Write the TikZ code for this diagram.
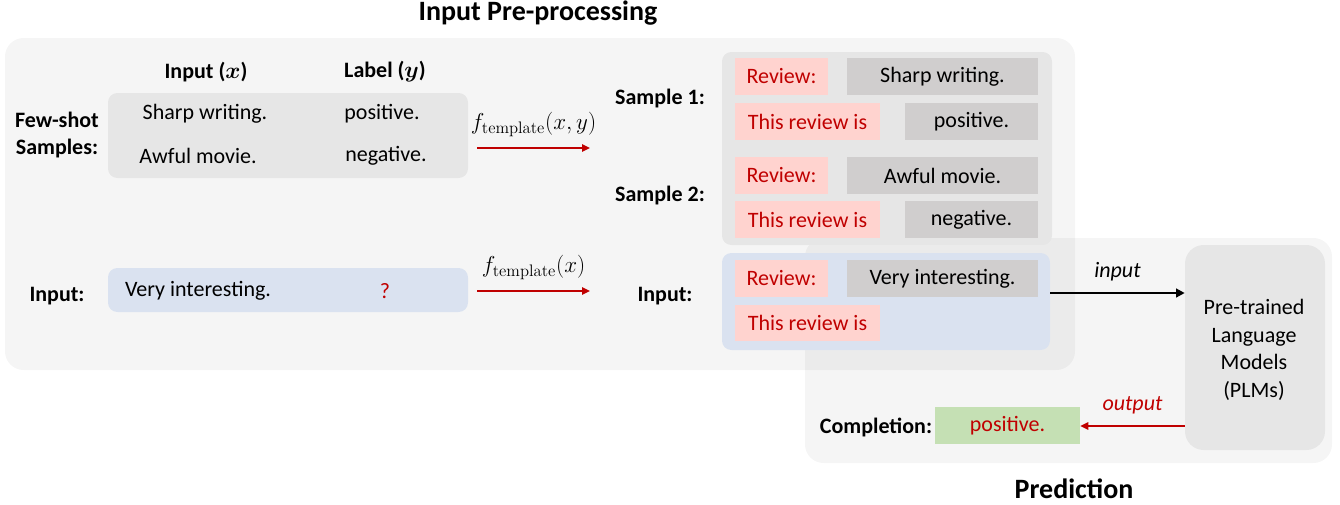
\documentclass[tikz,border=0pt]{standalone}
\usepackage{amsmath}
\usepackage{fontspec}
\setmainfont{Carlito}
\newfontfamily\lmrfont{Latin Modern Roman}
\usetikzlibrary{arrows.meta,fit}
\definecolor{greybox}{HTML}{E6E6E6}
\definecolor{tagpink}{HTML}{FFD3CF}
\definecolor{txtgrey}{HTML}{D0CECE}
\definecolor{inblue}{HTML}{DAE2F0}
\definecolor{darkred}{HTML}{C00000}
\definecolor{compgreen}{HTML}{C5E0B4}
\newcommand{\ftempl}{f_{\hbox{\lmrfont\fontsize{12.5}{13}\selectfont template}}}
\tikzset{
  x=0.75pt, y=-0.75pt,
  every node/.style={font=\fontsize{16.5}{20}\selectfont, inner sep=0pt},
  panel/.style={fill=black, fill opacity=0.04, rounded corners=14pt},
  roundbox/.style={fill=greybox, rounded corners=7pt},
  bluebox/.style={fill=inblue, rounded corners=7pt},
  pinkbox/.style={fill=tagpink, text=darkred},
  txtbox/.style={fill=txtgrey},
  greenbox/.style={fill=compgreen, text=darkred},
  bold/.style={font=\fontsize{16.5}{20}\selectfont\bfseries},
  title/.style={font=\fontsize{21}{24}\selectfont\bfseries},
  redarrow/.style={draw=darkred, line width=1.6pt, -{Triangle[length=6pt,width=5.5pt]}},
  blkarrow/.style={draw=black, line width=2pt, -{Triangle[length=6.5pt,width=6.5pt]}},
  lbl/.style={font=\fontsize{16.5}{20}\selectfont\itshape},
}
\begin{document}
\begin{tikzpicture}
\useasboundingbox (0,0) rectangle (1340,504);
% panels
\node[panel, fit={(5,38)(1075,370)}] (pre) {};
\node[panel, fit={(805,238)(1332,463)}] (pred) {};
\node[title] (pretitle) at (538,13) {Input Pre-processing};
\node[title] (predtitle) at (1074,489) {Prediction};

% few-shot
\node[bold] (hx) at (206,72) {Input ($\boldsymbol{x}$)};
\node[bold] (hy) at (385,72) {Label ($\boldsymbol{y}$)};
\node[roundbox, fit={(108,93)(468,178)}] (fs) {};
\node (s1x) at (205,114) {Sharp writing.};
\node (s1y) at (382,114) {positive.};
\node (s2x) at (198,156) {Awful movie.};
\node (s2y) at (386,156) {negative.};
\node[bold, align=center] (fslab) at (57,135) {Few-shot\\Samples:};

% input row
\node[bold] (inlab) at (57,296) {Input:};
\node[bluebox, fit={(108,268)(468,312)}] (inbox) {};
\node (invx) at (198,291) {Very interesting.};
\node[text=darkred] (inq) at (385,291) {?};

% arrows 1 and 2
\coordinate (a1s) at (477,148);
\coordinate (a1e) at (590,148);
\draw[redarrow] (a1s) -- node[above=8pt] (f1) {$\ftempl(x,y)$} (a1e);
\coordinate (a2s) at (477,291);
\coordinate (a2e) at (590,291);
\draw[redarrow] (a2s) -- node[above=8pt] (f2) {$\ftempl(x)$} (a2e);

% samples
\node[bold] (samp1) at (660,99) {Sample 1:};
\node[bold] (samp2) at (660,196) {Sample 2:};
\node[roundbox, fit={(722,52)(1052,245)}] (sbox) {};
\node[pinkbox, fit={(735,58)(828,95)}] (r1a) {};
\node[text=darkred] at (r1a) {Review:};
\node[txtbox, fit={(847,58)(1038,95)}] (r1b) {};
\node at (r1b) {Sharp writing.};
\node[pinkbox, fit={(735,103)(880,140)}] (r2a) {};
\node[text=darkred] at (r2a) {This review is};
\node[txtbox, fit={(905,103)(1038,140)}] (r2b) {};
\node at (r2b) {positive.};
\node[pinkbox, fit={(735,157)(828,194)}] (r3a) {};
\node[text=darkred] at (r3a) {Review:};
\node[txtbox, fit={(847,157)(1038,194)}] (r3b) {};
\node at (r3b) {Awful movie.};
\node[pinkbox, fit={(735,201)(880,238)}] (r4a) {};
\node[text=darkred] at (r4a) {This review is};
\node[txtbox, fit={(905,201)(1038,238)}] (r4b) {};
\node at (r4b) {negative.};

% templated input
\node[bold] (inlab2) at (665,296) {Input:};
\node[bluebox, fit={(722,253)(1050,350)}] (rin) {};
\node[pinkbox, fit={(735,260)(828,297)}] (r5a) {};
\node[text=darkred] at (r5a) {Review:};
\node[txtbox, fit={(847,260)(1038,297)}] (r5b) {};
\node at (r5b) {Very interesting.};
\node[pinkbox, fit={(735,305)(880,341)}] (r6a) {};
\node[text=darkred] at (r6a) {This review is};

% PLM
\node[roundbox, rounded corners=14pt, fit={(1185,245)(1325,450)}] (plm) {};
\node[align=center, font=\fontsize{16.5}{20.6}\selectfont] (plmtxt) at (1254,350) {Pre-trained\\Language\\Models\\(PLMs)};

\draw[blkarrow] (rin.east |- 0,293) -- node[above=8pt, lbl] (inlbl) {input} (plm.west |- 0,293);

% completion
\node[bold] (complab) at (876,427) {Completion:};
\node[greenbox, fit={(935,407)(1080,444)}] (comp) {};
\node[text=darkred] at (comp) {positive.};
\draw[redarrow] (plm.west |- 0,426) -- node[above=8pt, lbl, text=darkred] (outlbl) {output} (comp.east |- 0,426);
\end{tikzpicture}
\end{document}
